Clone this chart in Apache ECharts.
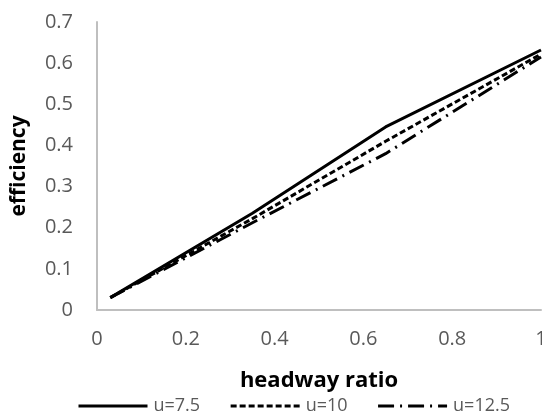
<!DOCTYPE html>
<html><head><meta charset="utf-8">
<script src="https://cdn.jsdelivr.net/npm/echarts@6/dist/echarts.min.js"></script>
<style>html,body{margin:0;padding:0;background:#fff}#c{width:542px;height:414px}</style>
</head><body><div id="c"></div>
<script>
const xValues = [0.03, 0.35, 0.65, 1.0];
const seriesNames = ['u=7.5', 'u=10', 'u=12.5'];
const u75 = [0.03, 0.235, 0.445, 0.632];
const u10 = [0.03, 0.222, 0.41, 0.622];
const u125 = [0.03, 0.212, 0.38, 0.615];
const xTicks = [0, 0.2, 0.4, 0.6, 0.8, 1];
const yTicks = [0, 0.1, 0.2, 0.3, 0.4, 0.5, 0.6, 0.7];

const font = '"Open Sans", sans-serif';
const pairs = arr => xValues.map((x, i) => [x, arr[i]]);
const styles = [
  {type: 'solid'},
  {type: [6, 3]},
  {type: [16, 6, 2, 6]}
];
const allData = [u75, u10, u125];

const chart = echarts.init(document.getElementById('c'));
chart.setOption({
  animation: false,
  grid: {left: 97, right: 1, top: 22, bottom: 104, containLabel: false, outerBoundsMode: 'none'},
  xAxis: {
    type: 'value', min: xTicks[0], max: xTicks[xTicks.length - 1], interval: 0.2,
    name: 'headway ratio', nameLocation: 'middle', nameGap: 60,
    nameTextStyle: {fontFamily: font, fontWeight: 'bold', fontSize: 22, color: '#000'},
    axisLine: {show: true, lineStyle: {color: '#bfbfbf', width: 2}},
    axisTick: {show: false}, splitLine: {show: false},
    axisLabel: {fontFamily: font, fontSize: 20, color: '#595959', margin: 19,
      formatter: v => String(+v.toFixed(1))}
  },
  yAxis: {
    type: 'value', min: yTicks[0], max: yTicks[yTicks.length - 1], interval: 0.1,
    name: 'efficiency', nameLocation: 'middle', nameGap: 67,
    nameTextStyle: {fontFamily: font, fontWeight: 'bold', fontSize: 21, color: '#000'},
    axisLine: {show: true, lineStyle: {color: '#bfbfbf', width: 2}},
    axisTick: {show: false}, splitLine: {show: false},
    axisLabel: {fontFamily: font, fontSize: 20, color: '#595959', margin: 24,
      formatter: v => String(+v.toFixed(1))}
  },
  legend: {
    top: 392, left: 72, itemWidth: 69, itemHeight: 10, itemGap: 29,
    itemStyle: {opacity: 0},
    lineStyle: {width: 3},
    textStyle: {fontFamily: font, fontSize: 18, color: '#595959', padding: [0, 0, 0, 1]},
    data: seriesNames
  },
  series: seriesNames.map((n, i) => ({
    name: n, type: 'line', data: pairs(allData[i]), symbol: 'none',
    lineStyle: {color: '#000', width: 3, type: styles[i].type},
    itemStyle: {color: '#000'}
  }))
});
</script></body></html>
